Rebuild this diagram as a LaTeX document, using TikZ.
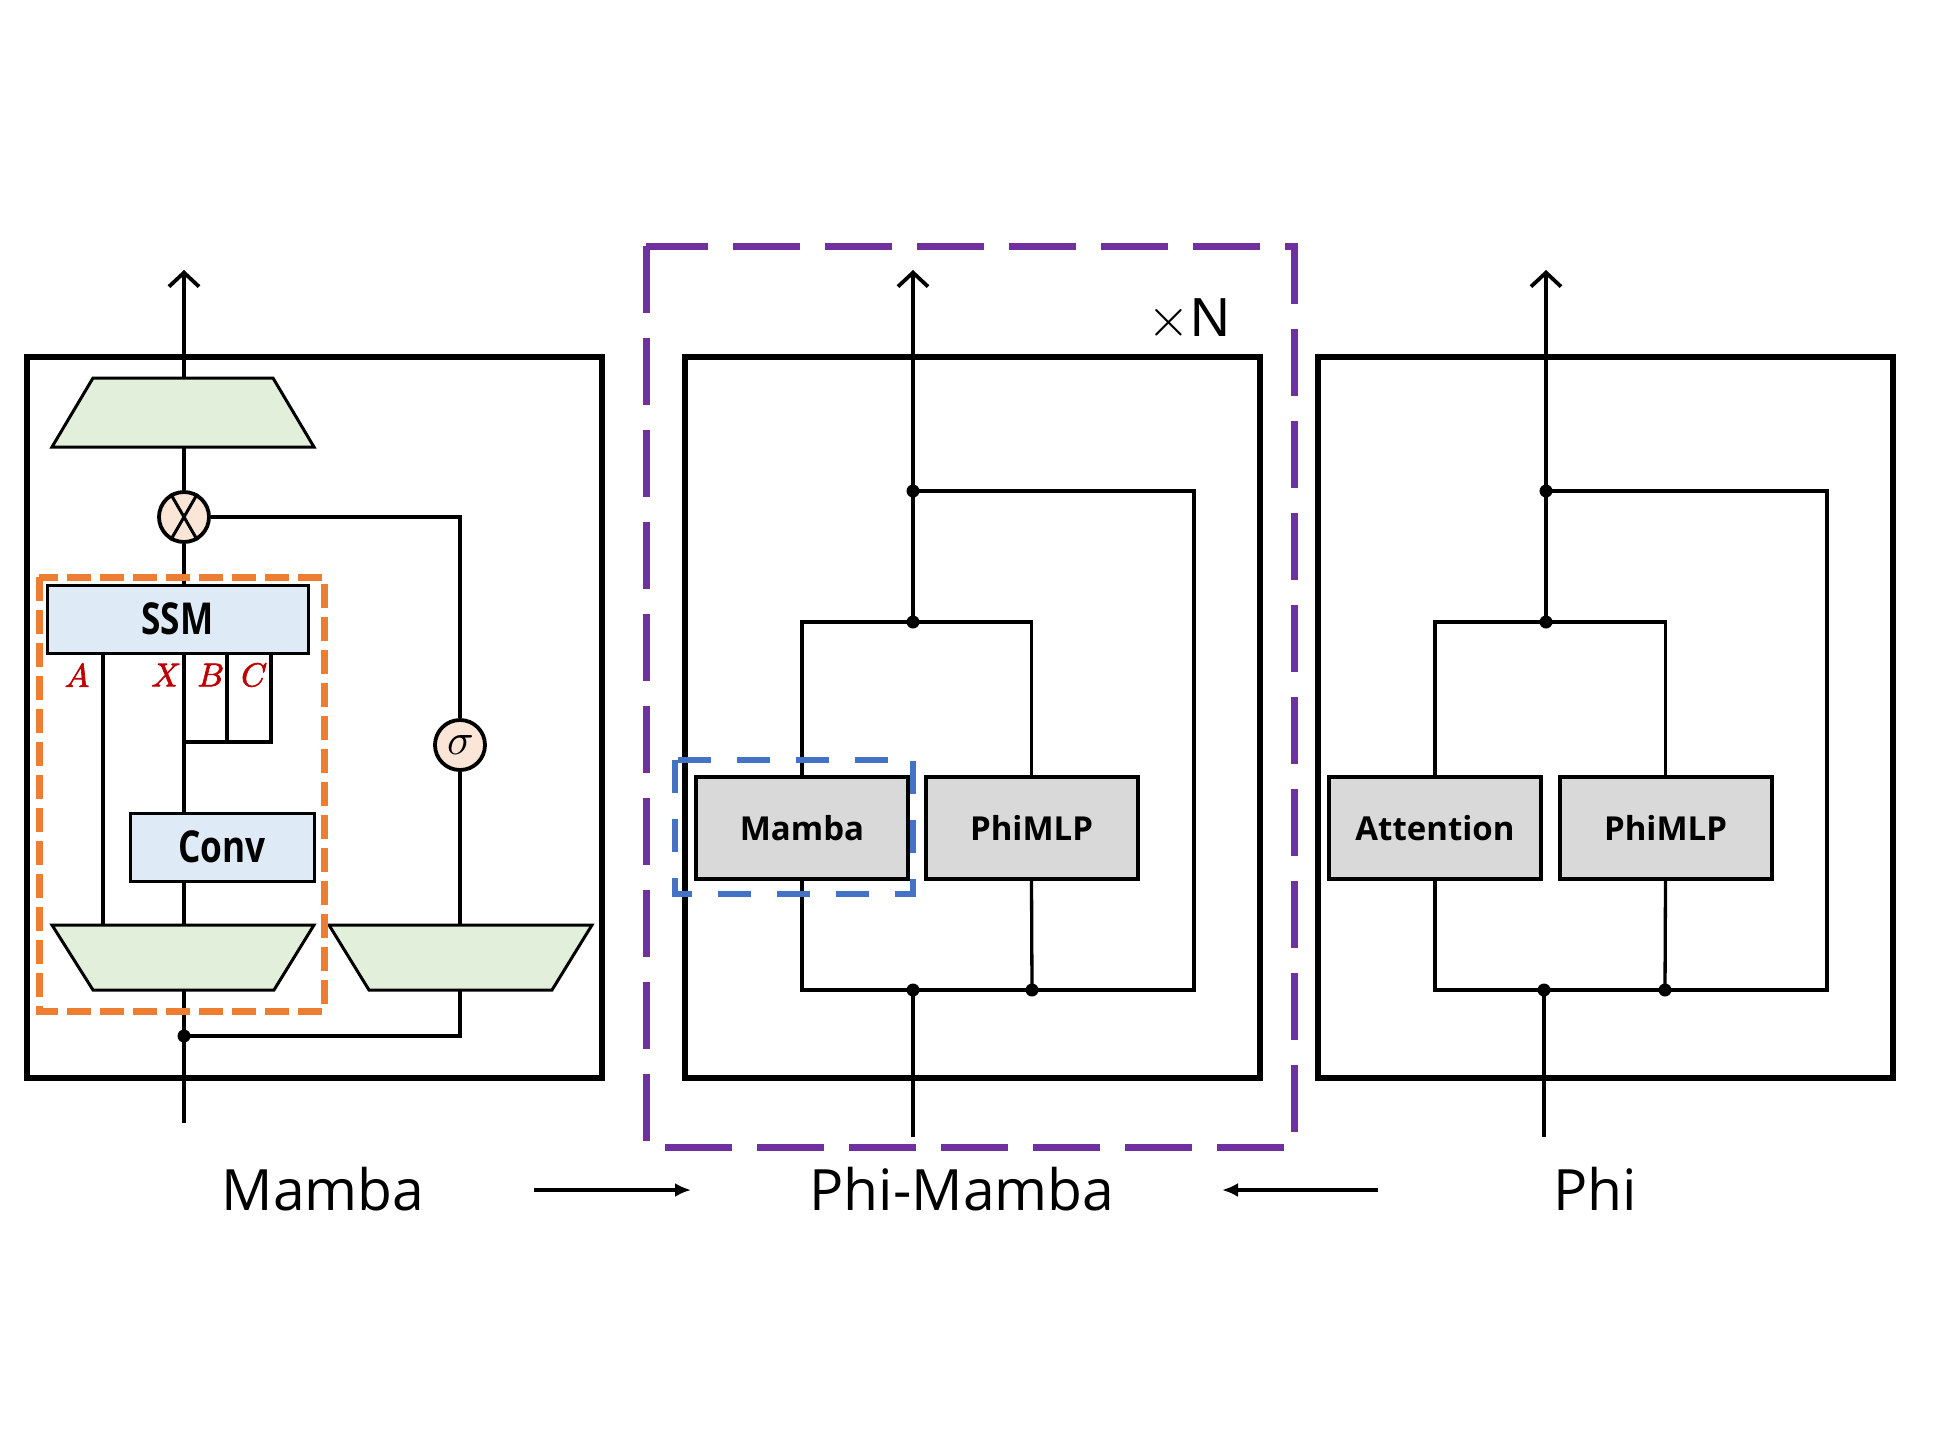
\documentclass[tikz,border=0pt]{standalone}
\usepackage{fontspec}
\setmainfont{Open Sans}
\newfontfamily\condbf[FakeStretch=0.8]{Open Sans}
\newfontfamily\lmm[FakeBold=2]{Latin Modern Math}
\newfontfamily\lmmplain{Latin Modern Math}
\newfontfamily\arialish{Liberation Sans}
\usetikzlibrary{arrows.meta}
\definecolor{trapg}{HTML}{E2EFDA}
\definecolor{ssmb}{HTML}{DEEBF7}
\definecolor{grayf}{HTML}{D9D9D9}
\definecolor{peach}{HTML}{FBE5D6}
\definecolor{orng}{HTML}{ED7D31}
\definecolor{blu}{HTML}{4472C4}
\definecolor{purp}{HTML}{7030A0}
\definecolor{redl}{HTML}{C00000}
\tikzset{
  outerbox/.style={draw, line width=6.5pt, inner sep=0pt, minimum width=575pt, minimum height=721pt},
  wire/.style={line width=3.8pt},
  thinwire/.style={line width=3.3pt},
  gbox/.style={draw, line width=4pt, fill=grayf, minimum width=212pt, minimum height=102pt, inner sep=0pt, font=\fontsize{33}{38}\selectfont\bfseries},
  bbox/.style={draw, line width=3pt, fill=ssmb, minimum height=68pt, inner sep=0pt, font=\condbf\fontsize{44}{50}\selectfont\bfseries},
  trap/.style={draw, line width=3pt, fill=trapg, line join=miter},
  jdot/.style={circle, fill=black, inner sep=0pt, minimum size=13pt},
  opcirc/.style={circle, draw, line width=3.8pt, fill=peach, minimum size=50pt, inner sep=0pt},
  uparrow/.style={line width=3.8pt, -{Straight Barb[length=14pt,width=30pt]}},
  lblarrow/.style={line width=3.5pt, -{Latex[length=16pt,width=14pt]}},
  biglabel/.style={font=\fontsize{57}{68}\selectfont},
  redlabel/.style={text=redl, font=\lmm\fontsize{33}{36}\selectfont, inner sep=0pt},
}
\begin{document}
\begin{tikzpicture}[x=1pt,y=-1pt]
\useasboundingbox (0,0) rectangle (1946,1456);
\fill[white] (0,0) rectangle (1946,1456);

% ================= Mamba block =================
\node[outerbox] (boxL) at (314.5,717.5) {};
% top trapezoid
\draw[trap] (93,378) -- (273,378) -- (314,447) -- (52,447) -- cycle;
\coordinate (tt) at (184,378);
\coordinate (tb) at (184,447);
% bottom-left trapezoid
\draw[trap] (52,925) -- (314,925) -- (274,990) -- (93,990) -- cycle;
\coordinate (blt) at (184,925);
\coordinate (blb) at (184,990);
\coordinate (blA) at (103,925);
% bottom-right trapezoid
\draw[trap] (329,925) -- (592,925) -- (552,990) -- (369,990) -- cycle;
\coordinate (brt) at (460,925);
\coordinate (brb) at (460,990);
% SSM and Conv
\node[bbox, minimum width=261pt] (ssm) at (177.5,619) {SSM};
\node[bbox, minimum width=184pt] (conv) at (222,847) {Conv};
% operators
\node[opcirc] (mul) at (184,517) {};
\draw[line width=3pt] (mul.120) -- (mul.-60) (mul.60) -- (mul.-120);
\node[opcirc] (sig) at (460,745) {\lmmplain\fontsize{44}{46}\selectfont 𝜎};
% junction
\node[jdot] (jL) at (184,1036) {};
\coordinate (inL) at (184,1123);
\coordinate (outL) at (184,270);
% wires
\draw[uparrow] (tt) -- (outL);
\draw[wire] (tb) -- (mul.north);
\draw[wire] (mul.south) -- (ssm.north -| mul.south);
\draw[wire] (184,653) -- (conv.north -| 184,653);
\draw[wire] (conv.south -| 184,653) -- (blt);
\draw[wire] (inL) -- (jL.center) -- (blb);
\draw[wire] (jL.center) -| (brb);
\draw[wire] (brt) -- (sig.south);
\draw[wire] (sig.north) |- (mul.east);
% A, X, B, C branches
\draw[wire] (103,653) -- (blA);
\draw[wire] (227,653) -- (227,742);
\draw[wire] (271,653) -- (271,742) -- (184,742);
\node[redlabel] (lA) at (77,675) {𝐴};
\node[redlabel] (lX) at (165,675) {𝑋};
\node[redlabel] (lB) at (210,675) {𝐵};
\node[redlabel] (lC) at (253,675) {𝐶};
% orange dashed group
\draw[orng, line width=7pt, dash pattern=on 24pt off 9pt] (39,577) rectangle (324,1011);

% ================= Phi-Mamba block =================
\node[outerbox] (boxM) at (972.5,717.5) {};
\node[gbox] (mamba) at (802,828) {Mamba};
\node[gbox] (mlpM) at (1031.5,828) {PhiMLP};
\node[jdot] (mTop) at (913,491) {};
\node[jdot] (mMid) at (913,622) {};
\node[jdot] (mBot) at (913,990) {};
\node[jdot] (mMlp) at (1032,990) {};
\coordinate (mIn) at (913,1137);
\coordinate (mOut) at (913,270);
\draw[uparrow] (mMid.center) -- (mOut);
\draw[thinwire] (mamba.north) |- (mMid.center) -| (mlpM.north);
\draw[thinwire] (mamba.south) |- (mBot.center) -- (mMlp.center) -- (1194,990) |- (mTop.center);
\draw[thinwire] (mlpM.south) -- (mMlp.center);
\draw[wire] (mIn) -- (mBot.center);
\draw[blu, line width=6.5pt, dash pattern=on 33pt off 26pt] (675,760) rectangle (913,894);
\draw[purp, line width=7pt, dash pattern=on 67pt off 25pt] (646,246) rectangle (1294,1147);
\node[font=\arialish\fontsize{55}{60}\selectfont, inner sep=0pt] (xN) at (1189,318) {{\lmmplain ×}N};

% ================= Phi block =================
\node[outerbox] (boxR) at (1605.5,717.5) {};
\node[gbox] (attn) at (1435,828) {Attention};
\node[gbox] (mlpR) at (1665.5,828) {PhiMLP};
\node[jdot] (rTop) at (1546,491) {};
\node[jdot] (rMid) at (1546,622) {};
\node[jdot] (rBot) at (1544,990) {};
\node[jdot] (rMlp) at (1665,990) {};
\coordinate (rIn) at (1544,1137);
\coordinate (rOut) at (1546,270);
\draw[uparrow] (rMid.center) -- (rOut);
\draw[thinwire] (attn.north) |- (rMid.center) -| (mlpR.north);
\draw[thinwire] (attn.south) |- (rBot.center) -- (rMlp.center) -- (1827,990) |- (rTop.center);
\draw[thinwire] (mlpR.south) -- (rMlp.center);
\draw[wire] (rIn) -- (rBot.center);

% ================= labels =================
\node[biglabel] (tMamba) at (323,1189) {Mamba};
\node[biglabel] (tPhiMamba) at (962,1189) {Phi-Mamba};
\node[biglabel] (tPhi) at (1595,1189) {Phi};
\coordinate (a1s) at (534,1190);
\coordinate (a1e) at (691,1190);
\coordinate (a2s) at (1378,1190);
\coordinate (a2e) at (1222,1190);
\draw[lblarrow] (a1s) -- (a1e);
\draw[lblarrow] (a2s) -- (a2e);
\end{tikzpicture}
\end{document}
